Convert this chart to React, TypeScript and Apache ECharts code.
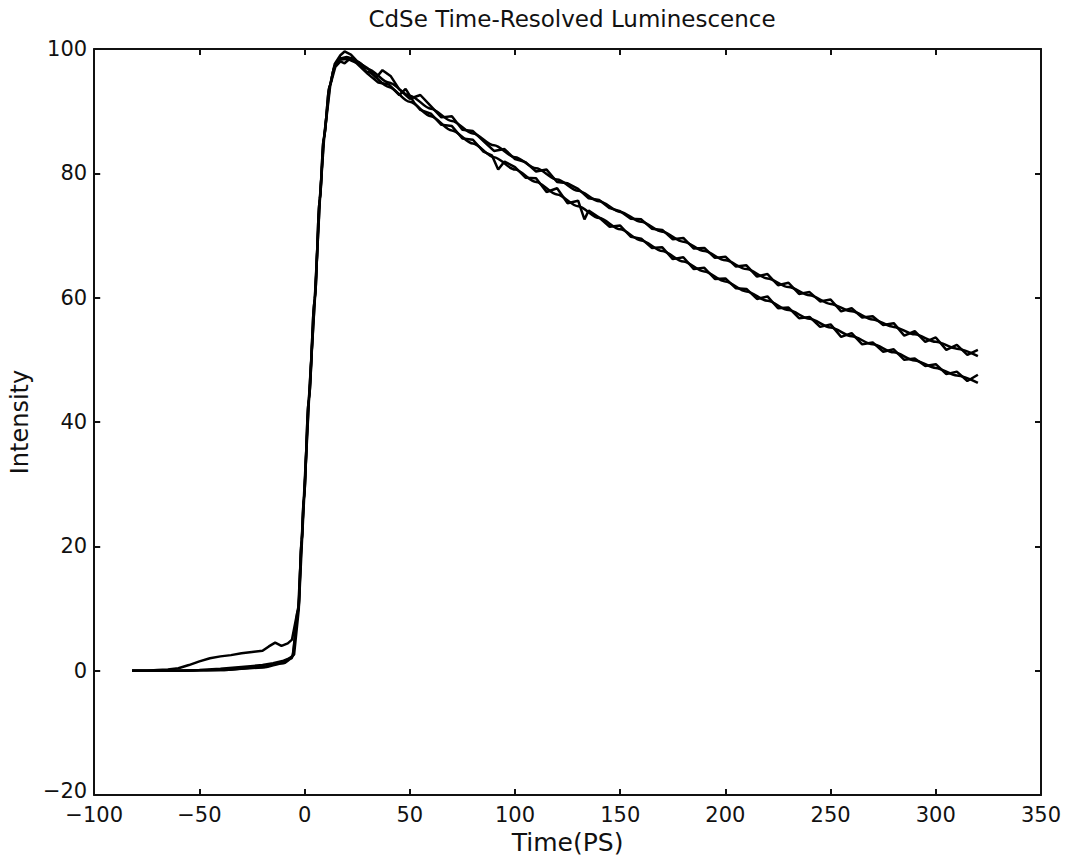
import React, { useEffect, useRef } from "react";
import * as echarts from "echarts";

const TITLE = "CdSe Time-Resolved Luminescence";
const X_NAME = "Time(PS)";
const Y_NAME = "Intensity";
const X_MIN = -100;
const X_MAX = 350;
const X_STEP = 50;
const Y_MIN = -20;
const Y_MAX = 100;
const Y_STEP = 20;

// measured trace, upper band
const measuredA: [number, number][] = [
  [-82, 0], [-75, 0], [-70, 0.1], [-65, 0.2], [-60, 0.4], [-55, 0.9], [-50, 1.5], [-45, 2.0],
  [-40, 2.3], [-35, 2.5], [-30, 2.8], [-25, 3.0], [-20, 3.2], [-17, 3.9], [-14, 4.5], [-11, 4.0],
  [-8, 4.4], [-6, 5.0], [-3, 10.2], [-1.4, 21], [-0.4, 27.5], [2, 43.5], [4.8, 59.6], [7.2, 75.7],
  [9.1, 85.4], [11.9, 93.9], [14.3, 97.6], [17, 99.0], [19, 99.6], [22, 99.1], [25, 98.0],
  [30, 96.9], [34, 95.4], [37, 96.6], [41, 95.6], [45, 93.5], [50, 92.0], [55, 92.6], [60, 90.8],
  [65, 89.0], [70, 89.2], [75, 87.0], [80, 86.8], [85, 85.2], [90, 83.6], [95, 83.9], [100, 82.3],
  [105, 81.8], [110, 80.3], [115, 80.6], [120, 78.6], [125, 78.4], [130, 77.5], [135, 76.0],
  [140, 75.7], [145, 74.4], [150, 73.9], [155, 72.7], [160, 72.6], [165, 71.1], [170, 70.9],
  [175, 69.4], [180, 69.6], [185, 67.9], [190, 68.0], [195, 66.4], [200, 66.6], [205, 65.0],
  [210, 65.2], [215, 63.4], [220, 63.8], [225, 62.0], [230, 62.4], [235, 60.6], [240, 60.9],
  [245, 59.4], [250, 59.7], [255, 57.8], [260, 58.3], [265, 56.8], [270, 57.0], [275, 55.6],
  [280, 55.9], [285, 53.9], [290, 54.6], [295, 52.9], [300, 53.6], [305, 51.6], [310, 52.4],
  [315, 50.8], [320, 51.6],
];

// measured trace, lower band
const measuredB: [number, number][] = [
  [-82, 0], [-70, 0], [-60, 0], [-50, 0.1], [-40, 0.3], [-30, 0.6], [-20, 0.9], [-15, 1.2],
  [-10, 1.6], [-7, 2.0], [-5, 2.6], [-2.8, 9.8], [-1.3, 20.5], [-0.3, 27.3], [2.1, 43.8],
  [4.9, 59.9], [7.3, 76.0], [9.3, 85.8], [12.2, 94.2], [14.6, 97.1], [17, 98.0], [19, 97.7],
  [22, 98.6], [25, 97.6], [30, 96.0], [35, 94.6], [40, 94.3], [45, 92.6], [48, 93.6], [52, 91.4],
  [55, 90.2], [60, 89.6], [65, 87.8], [70, 87.6], [75, 85.6], [80, 85.4], [85, 83.5], [89, 82.9],
  [92, 80.6], [95, 81.9], [100, 81.0], [105, 79.3], [110, 79.2], [115, 77.0], [120, 77.6],
  [125, 75.2], [130, 75.6], [133, 72.6], [135, 74.0], [140, 72.9], [145, 71.4], [150, 71.6],
  [155, 69.8], [160, 69.5], [165, 68.0], [170, 68.1], [175, 66.2], [180, 66.5], [185, 64.6],
  [190, 64.8], [195, 63.0], [200, 63.1], [205, 61.5], [210, 61.4], [215, 59.8], [220, 60.2],
  [225, 58.3], [230, 58.4], [235, 56.7], [240, 56.9], [245, 55.3], [250, 55.7], [255, 53.7],
  [260, 54.3], [265, 52.5], [270, 52.8], [275, 51.3], [280, 51.7], [285, 50.0], [290, 50.2],
  [295, 49.0], [300, 49.3], [305, 47.7], [310, 48.1], [315, 46.6], [320, 47.6],
];

// smooth fit, upper band
const fitA: [number, number][] = [
  [-82, 0], [-60, 0], [-40, 0.1], [-20, 0.5], [-10, 1.2], [-6, 2.0], [-3, 9.5], [-1.4, 20.8],
  [-0.4, 27.4], [2, 43.6], [4.8, 59.7], [7.2, 75.8], [9.1, 85.6], [11.9, 94.0], [14.3, 97.3],
  [17, 98.5], [20, 98.7], [25, 98.0], [30, 96.8], [40, 94.6], [50, 92.5], [60, 90.4], [70, 88.4],
  [80, 86.4], [90, 84.5], [100, 82.6], [110, 80.8], [120, 79.0], [130, 77.2], [140, 75.5],
  [150, 73.8], [160, 72.2], [170, 70.6], [180, 69.0], [190, 67.5], [200, 66.0], [210, 64.6],
  [220, 63.1], [230, 61.7], [240, 60.4], [250, 59.0], [260, 57.8], [270, 56.5], [280, 55.3],
  [290, 54.1], [300, 52.9], [310, 51.8], [320, 50.6],
];

// smooth fit, lower band
const fitB: [number, number][] = [
  [-82, 0], [-60, 0], [-40, 0.1], [-20, 0.6], [-10, 1.4], [-6, 2.2], [-3, 9.9], [-1.4, 21.0],
  [-0.4, 27.6], [2, 43.7], [4.8, 59.8], [7.2, 75.9], [9.1, 85.7], [11.9, 94.1], [14.3, 97.2],
  [17, 98.3], [20, 98.4], [25, 97.8], [30, 96.3], [40, 93.9], [50, 91.5], [60, 89.2], [70, 86.9],
  [80, 84.8], [90, 82.6], [100, 80.6], [110, 78.6], [120, 76.6], [130, 74.7], [140, 72.8],
  [150, 71.0], [160, 69.2], [170, 67.5], [180, 65.8], [190, 64.2], [200, 62.6], [210, 61.0],
  [220, 59.5], [230, 58.0], [240, 56.6], [250, 55.2], [260, 53.8], [270, 52.5], [280, 51.2],
  [290, 49.9], [300, 48.7], [310, 47.5], [320, 46.3],
];

const FONT = "DejaVu Sans";
const INK = "#111";

const minus = (v: number) => String(v).replace("-", "\u2212");
const yLabel = (v: number) => (v === Y_MIN ? "{lo|" + minus(v) + "}" : minus(v));

export default function App() {
  const ref = useRef<HTMLDivElement>(null);
  useEffect(() => {
    if (!ref.current) return;
    const chart = echarts.init(ref.current, undefined, { renderer: "svg" });
    const axisLine = { onZero: false, lineStyle: { color: INK, width: 2 } };
    const tick = { inside: true, length: 6, lineStyle: { color: INK, width: 2 } };
    const lineSeries = (name: string, data: [number, number][], smooth: boolean) => ({
      name,
      type: "line",
      data,
      showSymbol: false,
      symbol: "none",
      smooth: smooth ? 0.3 : false,
      smoothMonotone: "x",
      silent: true,
      lineStyle: { color: "#000", width: 2.5 },
      xAxisIndex: 0,
      yAxisIndex: 0,
    });
    chart.setOption({
      animation: false,
      backgroundColor: "#fff",
      title: {
        text: TITLE,
        left: 572,
        top: 7,
        padding: 0,
        textAlign: "center",
        textStyle: { fontFamily: FONT, fontSize: 23, fontWeight: "normal", color: INK },
      },
      grid: { left: 92, right: 24, top: 49, bottom: 72, containLabel: false },
      xAxis: [
        {
          type: "value",
          min: X_MIN,
          max: X_MAX,
          interval: X_STEP,
          position: "bottom",
          name: X_NAME,
          nameLocation: "middle",
          nameGap: 31,
          nameTextStyle: { fontFamily: FONT, fontSize: 25, color: INK },
          axisLine,
          axisTick: tick,
          axisLabel: { fontFamily: FONT, fontSize: 21, color: INK, margin: 9, formatter: minus },
          splitLine: { show: false },
        },
        {
          type: "value",
          min: X_MIN,
          max: X_MAX,
          interval: X_STEP,
          position: "top",
          axisLine,
          axisTick: tick,
          axisLabel: { show: false },
          splitLine: { show: false },
        },
      ],
      yAxis: [
        {
          type: "value",
          min: Y_MIN,
          max: Y_MAX,
          interval: Y_STEP,
          position: "left",
          name: Y_NAME,
          nameLocation: "middle",
          nameGap: 55,
          nameTextStyle: { fontFamily: FONT, fontSize: 24, color: INK },
          axisLine,
          axisTick: tick,
          axisLabel: {
            fontFamily: FONT,
            fontSize: 21,
            color: INK,
            margin: 7,
            formatter: yLabel,
            rich: {
              lo: { fontFamily: FONT, fontSize: 21, color: INK, padding: [0, 0, 9, 0] },
            },
          },
          splitLine: { show: false },
        },
        {
          type: "value",
          min: Y_MIN,
          max: Y_MAX,
          interval: Y_STEP,
          position: "right",
          axisLine,
          axisTick: tick,
          axisLabel: { show: false },
          splitLine: { show: false },
        },
      ],
      series: [
        lineSeries("Measured A", measuredA, false),
        lineSeries("Measured B", measuredB, false),
        lineSeries("Fit A", fitA, true),
        lineSeries("Fit B", fitB, true),
      ],
    });
    return () => chart.dispose();
  }, []);
  return (
    <div
      ref={ref}
      style={{ position: "fixed", left: 0, top: 0, width: 1065, height: 867, background: "#fff" }}
    />
  );
}
